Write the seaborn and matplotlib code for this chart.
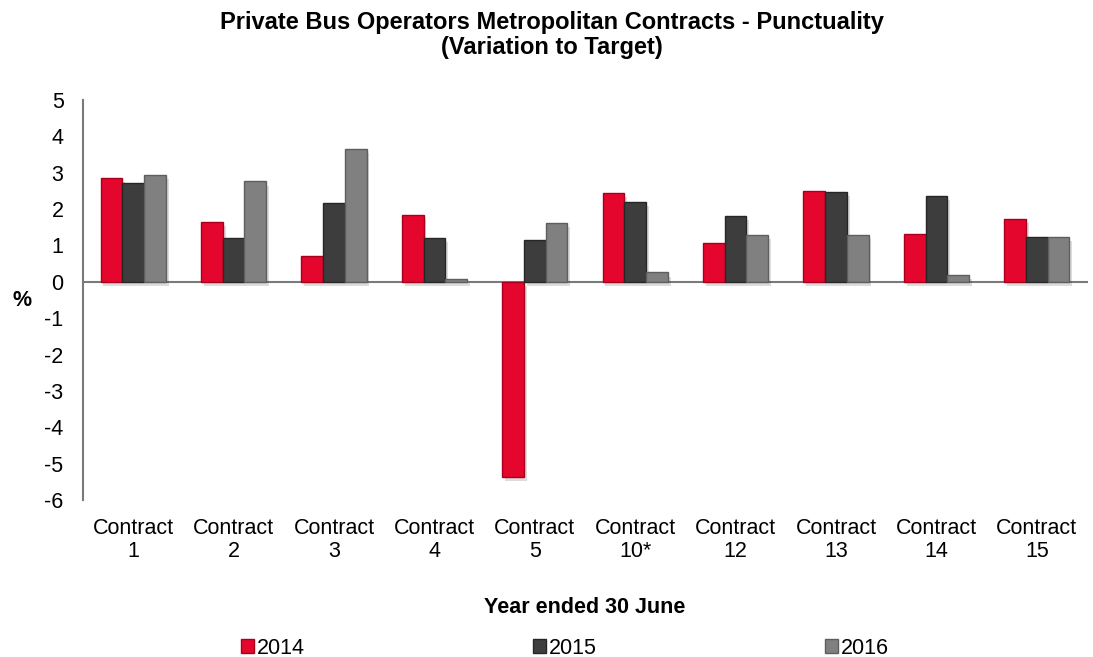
import matplotlib
matplotlib.use("Agg")
import matplotlib.pyplot as plt
import matplotlib.patheffects as pe
import pandas as pd
import seaborn as sns

# Punctuality variation to target (%), by contract and year
contracts = ["Contract\n1", "Contract\n2", "Contract\n3", "Contract\n4", "Contract\n5",
             "Contract\n10*", "Contract\n12", "Contract\n13", "Contract\n14", "Contract\n15"]
years = ["2014", "2015", "2016"]
values_2014 = [2.86, 1.64, 0.71, 1.85, -5.37, 2.45, 1.07, 2.49, 1.32, 1.73]
values_2015 = [2.72, 1.20, 2.16, 1.20, 1.16, 2.19, 1.81, 2.48, 2.36, 1.24]
values_2016 = [2.93, 2.76, 3.66, 0.09, 1.62, 0.26, 1.28, 1.29, 0.18, 1.24]
y_ticks = list(range(-6, 6))

df = pd.DataFrame({
    "contract": contracts * 3,
    "year": [years[0]] * 10 + [years[1]] * 10 + [years[2]] * 10,
    "value": values_2014 + values_2015 + values_2016,
})

sns.set_theme(style="white")
plt.rcParams["font.family"] = ["Liberation Sans", "DejaVu Sans"]
plt.rcParams["text.color"] = "black"
plt.rcParams["axes.labelcolor"] = "black"
plt.rcParams["xtick.color"] = "black"
plt.rcParams["ytick.color"] = "black"

fill_colors = {"2014": "#E5062D", "2015": "#3D3D3D", "2016": "#808080"}
edge_colors = {"2014": "#A8001C", "2015": "#262626", "2016": "#5E5E5E"}
axis_grey = "#7A7A7A"
fs = 15.5

fig = plt.figure(figsize=(10.93, 6.57), dpi=100)
ax = fig.add_axes([83 / 1093, 157 / 657, 1004 / 1093, 400 / 657])

sns.barplot(data=df, x="contract", y="value", hue="year", order=contracts,
            hue_order=years, palette=fill_colors, width=0.65, gap=0,
            saturation=1, errorbar=None, ax=ax, legend=True, zorder=3)

# Darker outline and soft drop shadow on each bar
shadow = [pe.SimplePatchShadow(offset=(2, -3), shadow_rgbFace="k", alpha=0.15),
          pe.Normal()]
for container, yr in zip(ax.containers, years):
    for bar in container:
        bar.set_edgecolor(edge_colors[yr])
        bar.set_linewidth(1.0)
        bar.set_path_effects(shadow)

ax.set_xlim(-0.5, len(contracts) - 0.5)
ax.set_ylim(-6, 5)
ax.set_yticks(y_ticks)
ax.set_yticklabels([str(t) for t in y_ticks], fontsize=fs, color="black")
ax.tick_params(axis="y", length=0, pad=14)

# Category axis line at zero with boundary ticks
for side in ("top", "right"):
    ax.spines[side].set_visible(False)
ax.spines["left"].set_color(axis_grey)
ax.spines["left"].set_linewidth(1.5)
ax.spines["bottom"].set_position(("data", 0))
ax.spines["bottom"].set_color(axis_grey)
ax.spines["bottom"].set_linewidth(1.5)
ax.set_xticks([i - 0.5 for i in range(len(contracts) + 1)])
ax.set_xticklabels([])
ax.tick_params(axis="x", direction="out", length=6, width=1.5, color=axis_grey)
ax.set_xlabel("")
ax.set_ylabel("")

# Category labels along the bottom edge of the plot area
sec = ax.secondary_xaxis(0)
sec.set_xticks(range(len(contracts)))
sec.set_xticklabels(contracts, fontsize=fs, linespacing=1.15, color="black")
sec.tick_params(axis="x", length=0, pad=13)
sec.spines["bottom"].set_visible(False)
sec.set_xlabel("Year ended 30 June", fontsize=fs, fontweight="bold", labelpad=25,
               color="black")

ax.set_ylabel("%", rotation=0, fontsize=fs, fontweight="bold", ha="center", va="center",
              color="black")
ax.yaxis.set_label_coords(-0.061, 0.4975)

fig.text(552 / 1093, 1 - 35 / 657,
         "Private Bus Operators Metropolitan Contracts - Punctuality\n(Variation to Target)",
         ha="center", va="center", fontsize=17, fontweight="bold", linespacing=1.1,
         color="black")

handles, labels = ax.get_legend_handles_labels()
ax.legend_.remove()
leg = fig.legend(handles, labels, loc="center", ncol=3,
                 bbox_to_anchor=(565 / 1093, 1 - 648 / 657), frameon=False,
                 fontsize=fs, handlelength=0.6, handleheight=0.6,
                 handletextpad=0.15, columnspacing=10.6, borderaxespad=0)
for h, yr in zip(leg.legend_handles, years):
    h.set_edgecolor(edge_colors[yr])

fig.savefig("out.png", dpi=100)
